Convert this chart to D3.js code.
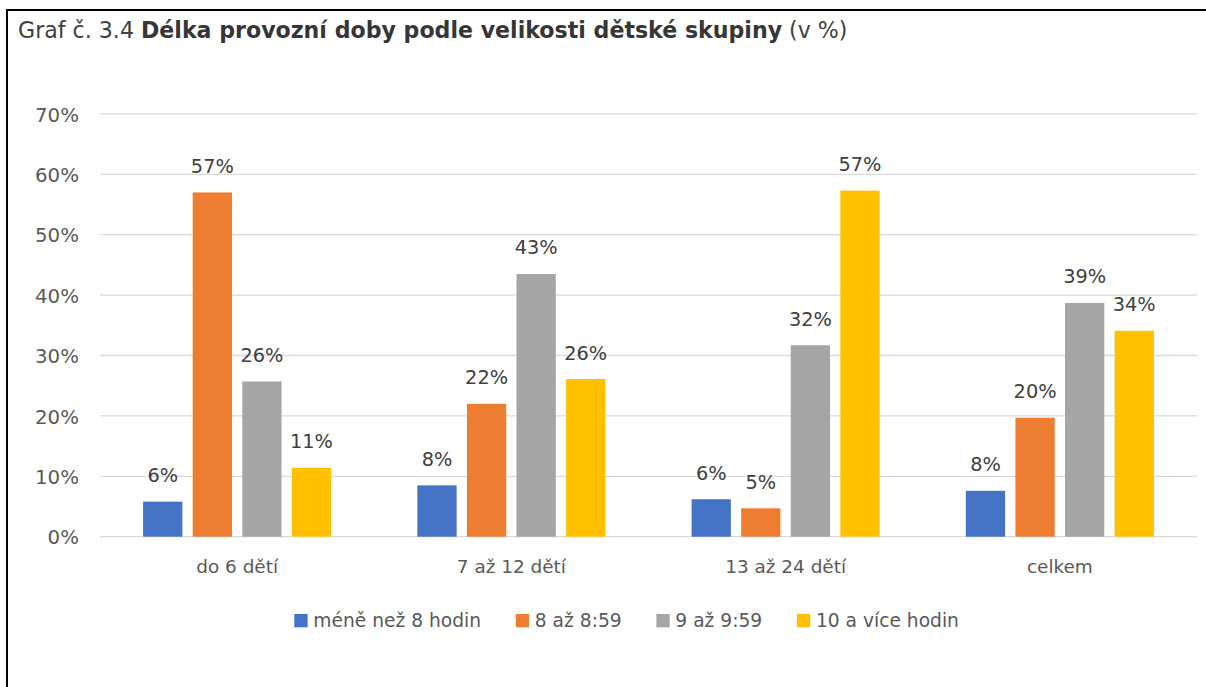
<!DOCTYPE html>
<html>
<head>
<meta charset="utf-8">
<script src="https://cdn.jsdelivr.net/npm/d3@7"></script>
<style>
  html, body { margin: 0; padding: 0; background: #fff; }
  svg { display: block; }
  text { font-family: "DejaVu Sans", "Open Sans", sans-serif; }
</style>
</head>
<body>
<svg id="chart" width="1206" height="687"></svg>
<script>
// ---- data ----
const categories = ["do 6 dětí", "7 až 12 dětí", "13 až 24 dětí", "celkem"];
const seriesNames = ["méně než 8 hodin", "8 až 8:59", "9 až 9:59", "10 a více hodin"];
const seriesColors = ["#4472C4", "#ED7D31", "#A5A5A5", "#FFC000"];
const lessThan8 = [5.8, 8.5, 6.2, 7.6];
const from8to859 = [57.0, 22.0, 4.7, 19.7];
const from9to959 = [25.7, 43.5, 31.7, 38.7];
const tenAndMore = [11.4, 26.1, 57.3, 34.1];
const dataLabels = [
  ["6%", "8%", "6%", "8%"],
  ["57%", "22%", "5%", "20%"],
  ["26%", "43%", "32%", "39%"],
  ["11%", "26%", "57%", "34%"]
];
const yTicks = [0, 10, 20, 30, 40, 50, 60, 70];
const titlePrefix = "Graf č. 3.4 ";
const titleBold = "Délka provozní doby podle velikosti dětské skupiny";
const titleSuffix = " (v %)";

const seriesValues = [lessThan8, from8to859, from9to959, tenAndMore];

// ---- layout ----
const svg = d3.select("#chart");
const plot = { left: 100, right: 1197, top: 113.9, bottom: 536.7 };

// font-size fitting helper: size so that sample text reaches target width
function fitSize(sample, target, weight) {
  const t = svg.append("text").attr("font-size", 100).attr("font-weight", weight || "normal").text(sample);
  const w = t.node().getComputedTextLength();
  t.remove();
  return 100 * target / w;
}
const tickSize = fitSize("70%", 44);
const labelSize = fitSize("57%", 43);
const catSize = fitSize("13 až 24 dětí", 121);
const legSize = fitSize("méně než 8 hodin", 168);

// frame (left + top border)
svg.append("path")
  .attr("d", "M7,687 L7,10 L1206,10")
  .attr("fill", "none").attr("stroke", "#000").attr("stroke-width", 2);

// title
const title = svg.append("text").attr("x", 18).attr("y", 37.5)
  .attr("font-size", 20).attr("fill", "#404040");
title.append("tspan").text(titlePrefix);
title.append("tspan").attr("font-weight", "bold").attr("fill", "#363636").text(titleBold);
title.append("tspan").text(titleSuffix);
{
  const w = title.node().getComputedTextLength();
  title.attr("font-size", 20 * 830 / w);
}

const y = d3.scaleLinear().domain([0, 70]).range([plot.bottom, plot.top]);
const x0 = d3.scaleBand().domain(categories).range([plot.left, plot.right]).padding(0);
const x1 = d3.scaleBand().domain(d3.range(seriesNames.length))
  .range([0, x0.bandwidth()]).paddingInner(0.208).paddingOuter(0.869);

// gridlines
svg.append("g").selectAll("line").data(yTicks).join("line")
  .attr("x1", plot.left).attr("x2", plot.right)
  .attr("y1", d => y(d)).attr("y2", d => y(d))
  .attr("stroke", "#D9D9D9").attr("stroke-width", 1.3);

// y axis labels
const yAxis = d3.axisLeft(y).tickValues(yTicks).tickFormat(d => d + "%").tickSize(0).tickPadding(0);
const gy = svg.append("g").attr("transform", `translate(79,0)`).call(yAxis);
gy.select(".domain").remove();
gy.selectAll("text").attr("font-size", tickSize).attr("fill", "#595959")
  .attr("font-family", "'DejaVu Sans', sans-serif").attr("dy", "0.36em");

// x axis labels
const xAxis = d3.axisBottom(x0).tickSize(0).tickPadding(0);
const gx = svg.append("g").attr("transform", `translate(0,${plot.bottom})`).call(xAxis);
gx.select(".domain").remove();
gx.selectAll("text").attr("font-size", catSize).attr("fill", "#595959")
  .attr("font-family", "'DejaVu Sans', sans-serif").attr("dy", null).attr("y", 36);

// bars
const groups = svg.append("g").selectAll("g").data(categories).join("g")
  .attr("transform", d => `translate(${x0(d)},0)`);

const cellData = (c, ci) => seriesValues.map((vals, si) => ({ si, v: vals[ci], label: dataLabels[si][ci] }));

groups.selectAll("rect").data(cellData)
  .join("rect")
  .attr("x", d => x1(d.si)).attr("width", x1.bandwidth())
  .attr("y", d => y(d.v)).attr("height", d => y(0) - y(d.v))
  .attr("fill", d => seriesColors[d.si]);

groups.selectAll("text.lbl").data(cellData)
  .join("text").attr("class", "lbl")
  .attr("x", d => x1(d.si) + x1.bandwidth() / 2)
  .attr("y", d => y(d.v) - 19.5)
  .attr("text-anchor", "middle").attr("font-size", labelSize).attr("fill", "#404040")
  .text(d => d.label);

// legend
const legend = svg.append("g");
let lx = 294.3;
seriesNames.forEach((name, i) => {
  legend.append("rect").attr("x", lx).attr("y", 614).attr("width", 13.3).attr("height", 13.3)
    .attr("fill", seriesColors[i]);
  const t = legend.append("text").attr("x", lx + 19).attr("y", 626.5)
    .attr("font-size", legSize).attr("fill", "#595959").text(name);
  lx += 19 + t.node().getComputedTextLength() + 34.7;
});
</script>
</body>
</html>
